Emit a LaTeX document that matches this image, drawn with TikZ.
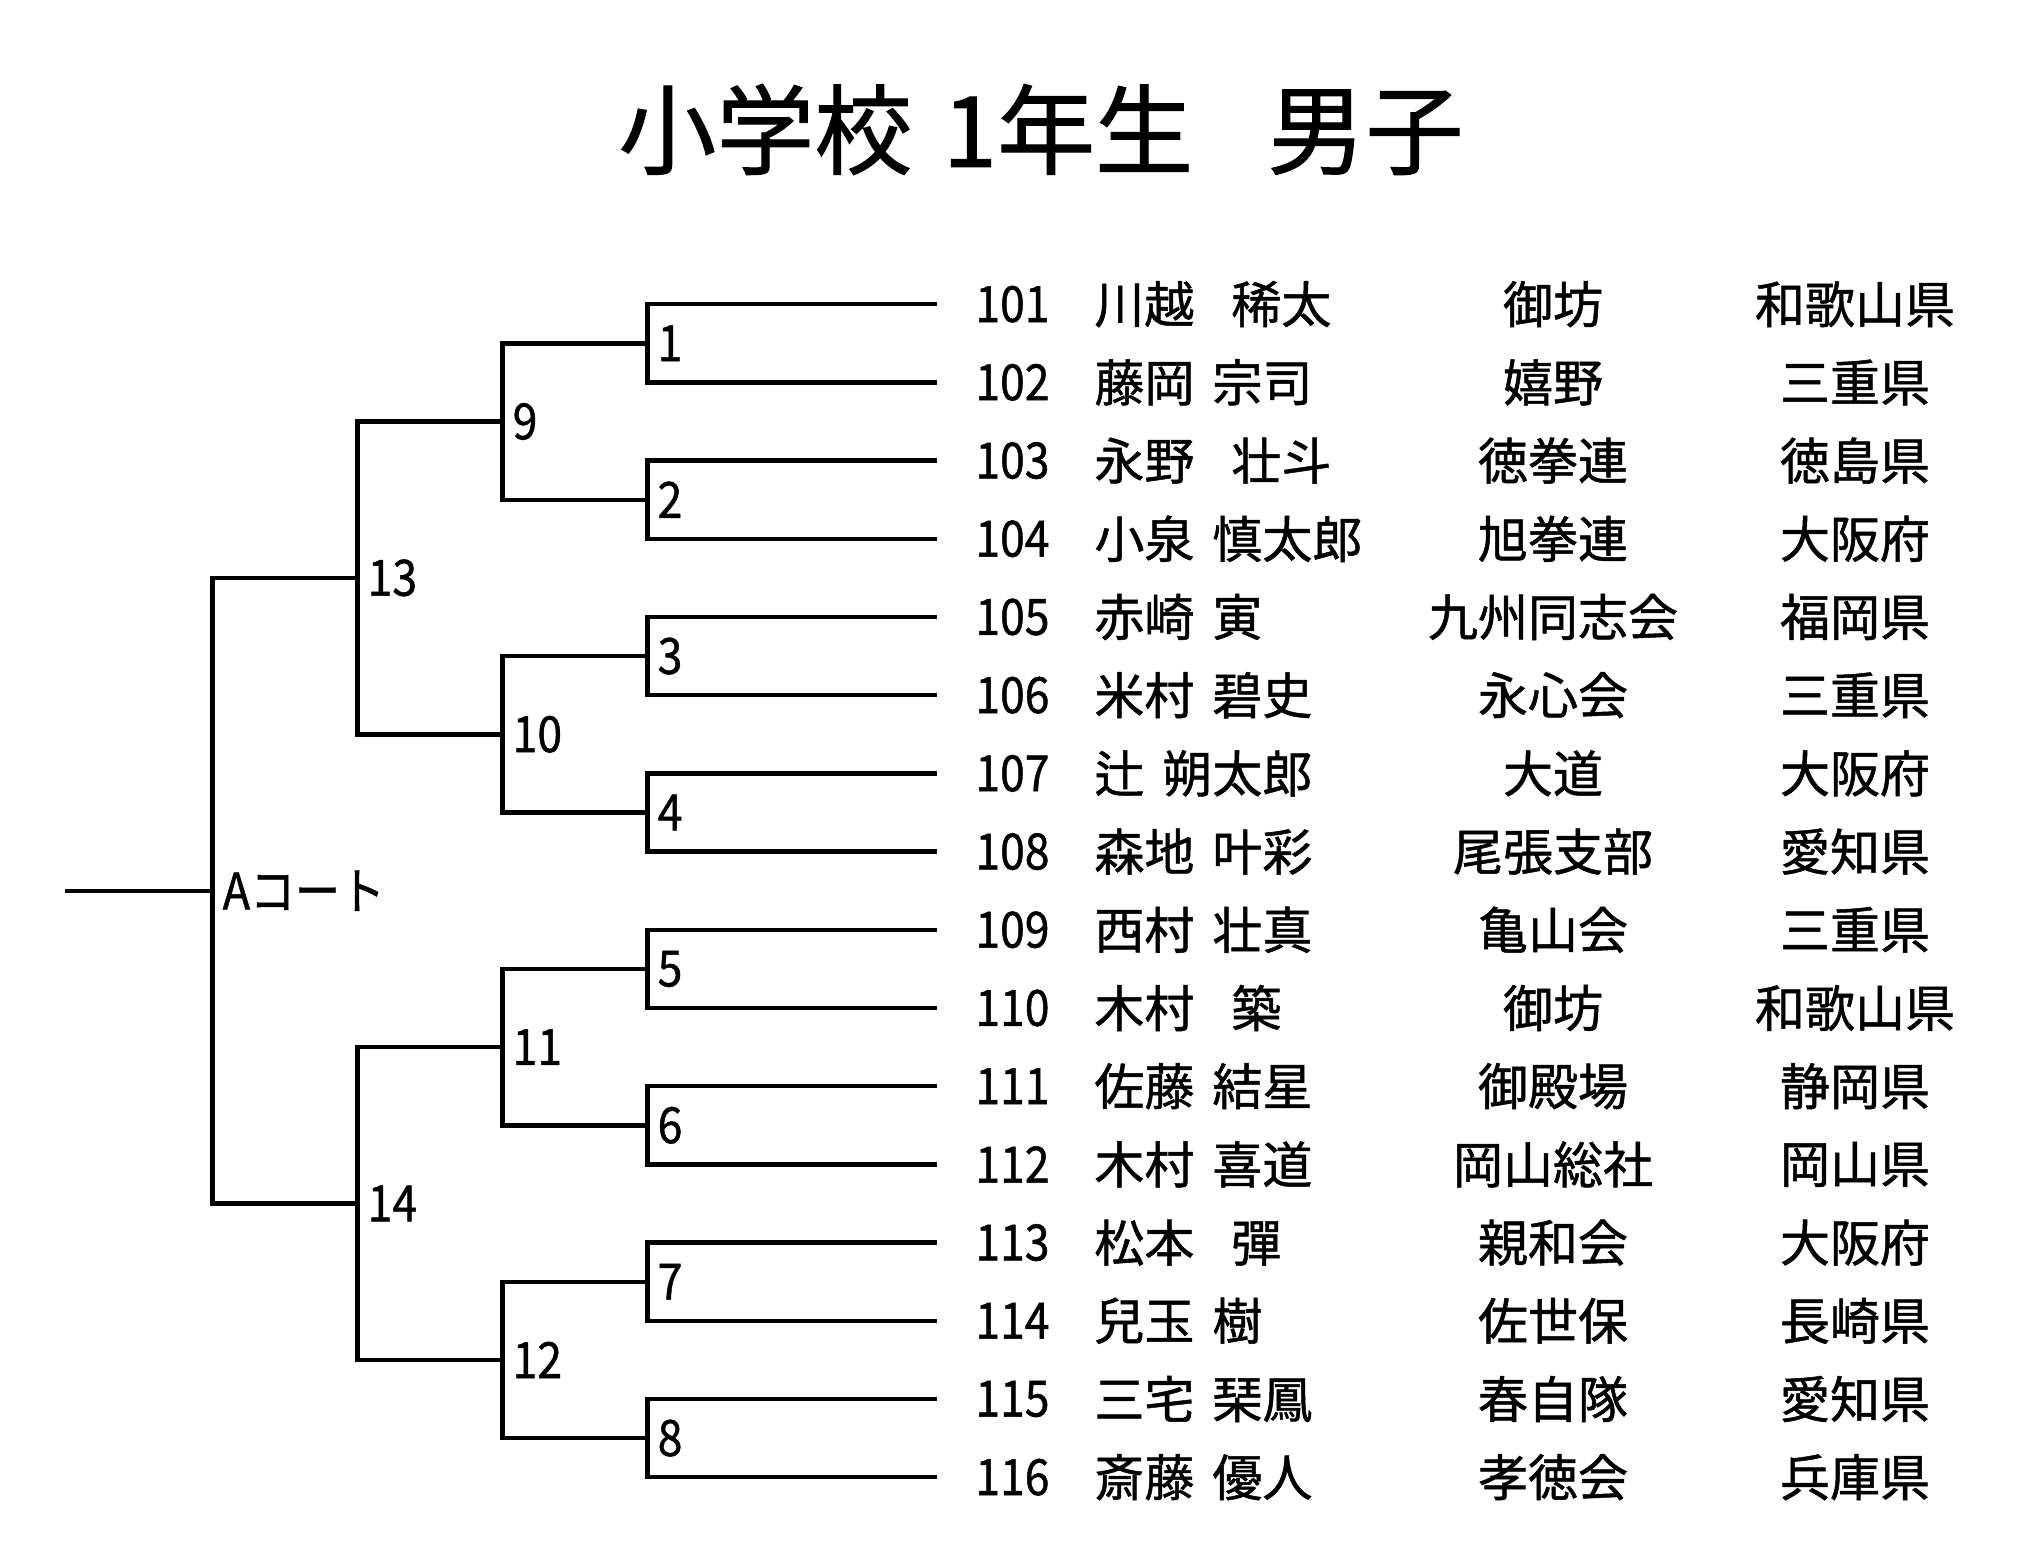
\documentclass[tikz,border=0pt]{standalone}
\usepackage{fontspec}
\setmainfont{Noto Sans CJK JP}[FakeBold=1.0]
\newcommand{\gapH}{\hspace{0.36em}}
\newcommand{\gapF}{\hspace{0.74em}}
\newcommand{\narrowtxt}[1]{\scalebox{0.89}[1]{#1}}
\begin{document}
\begin{tikzpicture}[x=0.5pt,y=-0.5pt,
  br/.style={line width=2.2pt,line cap=rect},
  txt/.style={inner sep=0pt,font=\fontsize{25}{30}\selectfont},
  lab/.style={txt,anchor=west,xshift=5pt},
  ttl/.style={inner sep=0pt,font=\fontsize{49}{60}\selectfont}]
\useasboundingbox (0,0) rectangle (2030,1552);
\def\XL{935}\def\XA{647.3}\def\XB{502.3}\def\XC{357.3}\def\XD{212.3}\def\XO{67.3}
\node[ttl] (title) at (1041,129.5) {小学校\hspace{0.31em}1年生\hspace{0.76em}男子};
% leaves
\foreach \i in {1,...,16}{
  \coordinate (L\i) at (\XL,{304.2+(\i-1)*78.2});
}
% round 1
\foreach \m in {1,...,8}{
  \coordinate (M\m) at (\XA,{304.2+(2*\m-1.5)*78.2});
}
% round 2
\foreach \m in {9,...,12}{
  \coordinate (M\m) at (\XB,{304.2+(4*(\m-8)-2.5)*78.2});
}
% round 3 and final
\coordinate (M13) at (\XC,{304.2+3.5*78.2});
\coordinate (M14) at (\XC,{304.2+11.5*78.2});
\coordinate (M15) at (\XD,{304.2+7.5*78.2});
\coordinate (R) at (\XO,{304.2+7.5*78.2});
% connectors
\foreach \m in {1,...,8}{
  \pgfmathtruncatemacro{\a}{2*\m-1}\pgfmathtruncatemacro{\b}{2*\m}
  \draw[br] (L\a) -| (M\m);
  \draw[br] (L\b) -| (M\m);
}
\foreach \m in {9,...,12}{
  \pgfmathtruncatemacro{\a}{2*(\m-8)-1}\pgfmathtruncatemacro{\b}{2*(\m-8)}
  \draw[br] (M\a) -| (M\m);
  \draw[br] (M\b) -| (M\m);
}
\draw[br] (M9) -| (M13); \draw[br] (M10) -| (M13);
\draw[br] (M11) -| (M14); \draw[br] (M12) -| (M14);
\draw[br] (M13) -| (M15); \draw[br] (M14) -| (M15);
\draw[br] (R) -- (M15);
% match labels
\foreach \m in {1,...,14}{
  \node[lab] (T\m) at (M\m) {\narrowtxt{\m}};
}
\node[lab] (T15) at (M15) {\scalebox{0.9}[1]{Aコート}};
% entries
\foreach \i/\nm/\cl/\pf [count=\k] in {
 101/川越\gapF 稀太/御坊/和歌山県,
 102/藤岡\gapH 宗司/嬉野/三重県,
 103/永野\gapF 壮斗/徳拳連/徳島県,
 104/小泉\gapH 慎太郎/旭拳連/大阪府,
 105/赤崎\gapH 寅/九州同志会/福岡県,
 106/米村\gapH 碧史/永心会/三重県,
 107/辻\gapH 朔太郎/大道/大阪府,
 108/森地\gapH 叶彩/尾張支部/愛知県,
 109/西村\gapH 壮真/亀山会/三重県,
 110/木村\gapF 築/御坊/和歌山県,
 111/佐藤\gapH 結星/御殿場/静岡県,
 112/木村\gapH 喜道/岡山総社/岡山県,
 113/松本\gapF 彈/親和会/大阪府,
 114/兒玉\gapH 樹/佐世保/長崎県,
 115/三宅\gapH 琹鳳/春自隊/愛知県,
 116/斎藤\gapH 優人/孝徳会/兵庫県}{
  \node[txt,anchor=west] (N\k) at (975,{304.2+(\k-1)*78.2}) {\narrowtxt{\i}};
  \node[txt,anchor=west] (P\k) at (1094,{304.2+(\k-1)*78.2}) {\nm};
  \node[txt] (C\k) at (1553,{304.2+(\k-1)*78.2}) {\cl};
  \node[txt] (F\k) at (1855,{304.2+(\k-1)*78.2}) {\pf};
}
\end{tikzpicture}
\end{document}
